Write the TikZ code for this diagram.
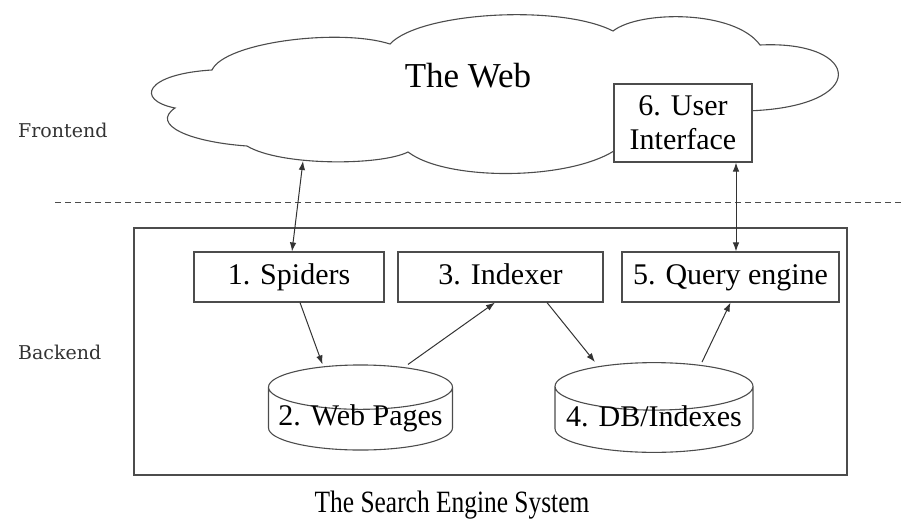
\documentclass[tikz,border=0pt]{standalone}
\usepackage{fontspec}
\setmainfont{Liberation Serif}
\newfontfamily\slabfont{DejaVu Serif}
\newfontfamily\narrowfont[FakeStretch=0.82]{Liberation Serif}
\usetikzlibrary{arrows.meta,shapes.geometric}

\tikzset{
  label font/.style={font=\fontsize{30}{34}\selectfont},
  frame/.style={draw=black!70, line width=1.1pt, inner sep=0pt, label font},
  box/.style={frame, minimum height=50pt, text height=21pt, text depth=7pt},
  dbase/.style={frame, cylinder, shape border rotate=90, aspect=0.27, anchor=shape center,
    minimum height=60pt, text height=16pt, text depth=2pt},
  link/.style={draw=black!80, line width=1pt, -{Latex[length=9pt,width=6.5pt]}},
  twoway/.style={link, {Latex[length=9pt,width=6.5pt]}-{Latex[length=9pt,width=6.5pt]}},
  side/.style={anchor=west, inner sep=0pt, font=\slabfont\fontsize{19}{22}\selectfont, text=black!80},
  cloudline/.style={draw=black!70, line width=1.1pt},
}

\begin{document}
\begin{tikzpicture}[x=1pt,y=-1pt]
  \useasboundingbox (0,0) rectangle (904,527);

  % the web
  \draw[cloudline] (175,108)
    .. controls (135,100) and (145,74) .. (212,70)
    .. controls (225,42) and (340,28) .. (390,44)
    .. controls (420,12) and (560,4) .. (613,31)
    .. controls (640,10) and (735,10) .. (760,45)
    .. controls (862,40) and (872,108) .. (745,111)
    -- (625,142)
    .. controls (590,180) and (450,184) .. (408,152)
    .. controls (380,166) and (280,166) .. (247,146)
    .. controls (190,142) and (150,125) .. cycle;
  \node[font=\fontsize{35}{40}\selectfont] (web) at (468,76) {The Web};
  \coordinate (webout) at (303,161);

  \node[frame, fill=white, align=center, minimum width=138pt, minimum height=78pt] (ui) at (683,123) {6. User\\Interface};

  % frontend / backend
  \node[side] (fe) at (18,130) {Frontend};
  \node[side] (bk) at (18,352) {Backend};
  \draw[draw=black!70, line width=1pt, dash pattern=on 6pt off 4pt] (55,202) -- (904,202);

  \node[draw=black!70, line width=1.1pt, minimum width=713pt, minimum height=247pt] (be) at (490.5,351.5) {};

  \node[box, minimum width=190pt] (sp) at (289,277) {1. Spiders};
  \node[box, minimum width=205pt] (ix) at (500.5,277) {3. Indexer};
  \node[box, minimum width=217pt] (qe) at (730.5,277) {5. Query engine};

  \node[dbase, minimum width=184pt] (wp) at (360.5,407.5) {2. Web Pages};
  \node[dbase, minimum width=198pt] (db) at (654,407.5) {4. DB/Indexes};

  \draw[twoway] (webout) -- ([xshift=3pt]sp.north);
  \draw[twoway] ([xshift=53pt]ui.south) -- ([xshift=5.5pt]qe.north);
  \draw[link] ([xshift=11pt]sp.south) -- ([xshift=-38pt]wp.north);
  \draw[link] ([xshift=47.5pt]wp.north) -- ([xshift=-5.5pt]ix.south);
  \draw[link] ([xshift=46.5pt]ix.south) -- ([xshift=-59pt]db.north);
  \draw[link] ([xshift=48pt]db.north) -- (qe.south);

  \node[font=\narrowfont\fontsize{31}{36}\selectfont] (cap) at (452,505) {The Search Engine System};
\end{tikzpicture}
\end{document}
